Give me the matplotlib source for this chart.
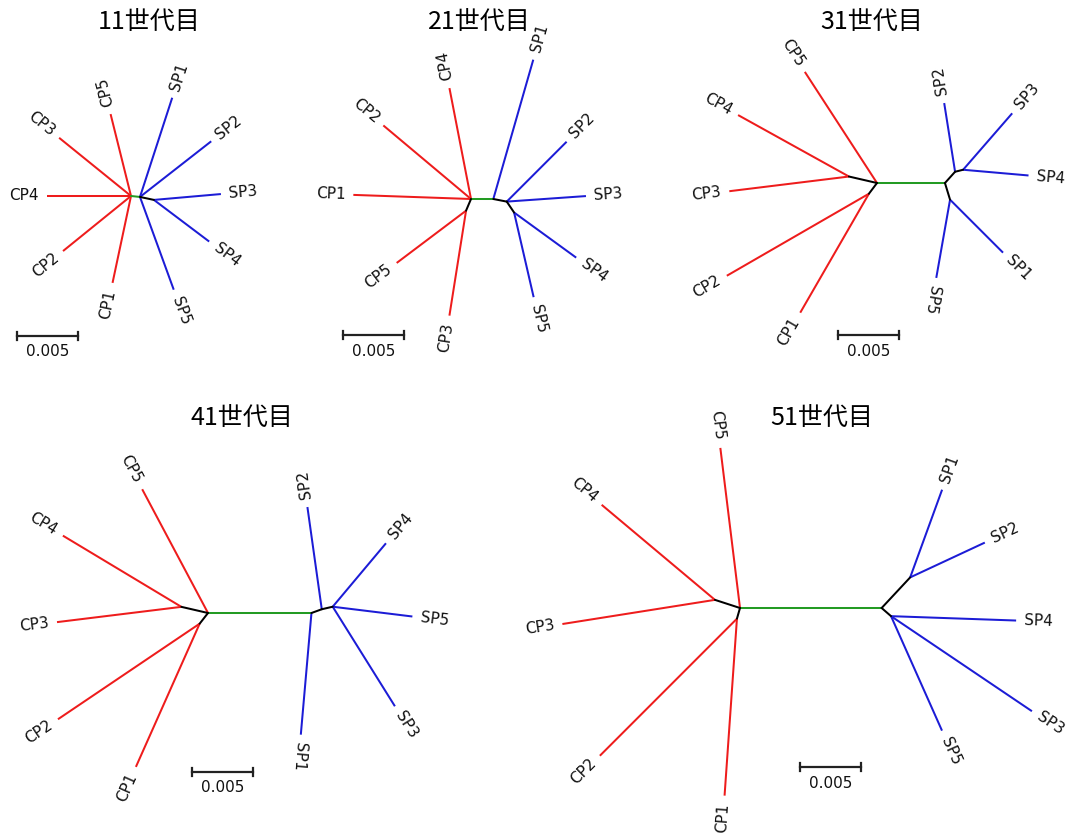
import numpy as np
import matplotlib.pyplot as plt

# unrooted NJ trees, branch length (subst./site) and drawing direction (deg)
titles = ['11世代目', '21世代目', '31世代目', '41世代目', '51世代目']

# internal branches: parent, child, length, angle  (L-R is the CP/SP split)
inner = [
    [('L', 'R', 0.00074, -6), ('R', 'R2', 0.00117, -12)],
    [('L', 'R', 0.00183, 0), ('R', 'R2', 0.00112, -11), ('R2', 'R3', 0.00108, -56), ('L', 'L2', 0.00104, -113)],
    [('L', 'R', 0.00557, 0), ('L', 'L2', 0.00236, 167), ('L', 'L3', 0.00110, -127),
     ('R', 'R2', 0.00124, 48), ('R2', 'R3', 0.00068, 14), ('R', 'R4', 0.00143, -73)],
    [('L', 'R', 0.00848, 0), ('L', 'L2', 0.00224, 167), ('L', 'L3', 0.00111, -128),
     ('R', 'R2', 0.00090, 20), ('R2', 'R3', 0.00092, 13)],
    [('L', 'R', 0.01161, 0), ('L', 'L2', 0.00216, 162), ('L', 'L3', 0.00091, -106),
     ('R', 'R2', 0.00343, 47), ('R', 'R3', 0.00102, -41)],
]

# terminal branches: name, parent, length, angle
tips = [
    [('CP5', 'L', 0.00692, 104), ('CP3', 'L', 0.00758, 141), ('CP4', 'L', 0.00689, 180),
     ('CP2', 'L', 0.00717, -141), ('CP1', 'L', 0.00728, -102), ('SP1', 'R', 0.00855, 72),
     ('SP2', 'R', 0.00741, 38), ('SP5', 'R', 0.00809, -70), ('SP3', 'R2', 0.00551, 5),
     ('SP4', 'R2', 0.00567, -37)],
    [('CP1', 'L', 0.00965, 178), ('CP2', 'L', 0.00938, 140), ('CP4', 'L', 0.00926, 101),
     ('CP5', 'L2', 0.00712, -143), ('CP3', 'L2', 0.00871, -99), ('SP1', 'R', 0.01188, 74),
     ('SP2', 'R2', 0.00694, 45), ('SP3', 'R2', 0.00651, 4), ('SP4', 'R3', 0.00629, -36),
     ('SP5', 'R3', 0.00712, -77)],
    [('CP5', 'L', 0.01086, 123), ('CP4', 'L2', 0.01039, 151), ('CP3', 'L2', 0.00988, -173),
     ('CP2', 'L3', 0.01345, -150), ('CP1', 'L3', 0.01126, -120), ('SP2', 'R2', 0.00570, 99),
     ('SP3', 'R3', 0.00613, 49), ('SP4', 'R3', 0.00538, -5), ('SP1', 'R4', 0.00614, -45),
     ('SP5', 'R4', 0.00651, -100)],
    [('CP5', 'L', 0.01149, 118), ('CP4', 'L2', 0.01133, 149), ('CP3', 'L2', 0.01027, -173),
     ('CP2', 'L3', 0.01401, -146), ('CP1', 'L3', 0.01285, -114), ('SP1', 'R', 0.01001, -95),
     ('SP2', 'R2', 0.00846, 98), ('SP3', 'R3', 0.00962, -58), ('SP4', 'R3', 0.00679, 50),
     ('SP5', 'R3', 0.00658, -7)],
    [('CP5', 'L', 0.01322, 97), ('CP4', 'L2', 0.01212, 140), ('CP3', 'L2', 0.01266, -171),
     ('CP2', 'L3', 0.01589, -135), ('CP1', 'L3', 0.01454, -94), ('SP1', 'R2', 0.00765, 70),
     ('SP2', 'R2', 0.00675, 25), ('SP4', 'R3', 0.01026, -2), ('SP3', 'R3', 0.01393, -34),
     ('SP5', 'R3', 0.01027, -66)],
]

scale_len = 0.005

# layout, in pixels of the 1067x833 picture
W, H = 1067, 833
S = scale_len / 61.0          # 0.005 drawn as 61 px
root_px = [(131, 196), (471, 199), (877, 183), (208, 613), (740, 608)]
title_px = [(149, 22), (479, 22), (872, 22), (242, 418), (822, 418)]
bar_px = [(17, 336), (343, 335), (838, 335), (192, 772), (800, 767)]

RED, BLUE, GREEN = '#ee1c1c', '#1c1cd6', '#239b23'
LW = 1.45

def px(p):
    return p[0] * S, (H - p[1]) * S

fig = plt.figure(figsize=(W / 100, H / 100), dpi=100)
ax = fig.add_axes([0, 0, 1, 1])
ax.set_xlim(0, W * S)
ax.set_ylim(0, H * S)
ax.axis('off')

for t in range(5):
    nodes = {'L': np.array(px(root_px[t]))}
    for a, b, ln, ang in inner[t]:
        d = np.array([np.cos(np.radians(ang)), np.sin(np.radians(ang))])
        nodes[b] = nodes[a] + ln * d
        col = GREEN if (a, b) == ('L', 'R') else 'black'
        ax.plot([nodes[a][0], nodes[b][0]], [nodes[a][1], nodes[b][1]],
                color=col, lw=LW, solid_capstyle='round', zorder=3)
    cx = (nodes['L'][0] + nodes['R'][0]) / 2
    for name, p, ln, ang in tips[t]:
        d = np.array([np.cos(np.radians(ang)), np.sin(np.radians(ang))])
        end = nodes[p] + ln * d
        col = RED if name.startswith('CP') else BLUE
        ax.plot([nodes[p][0], end[0]], [nodes[p][1], end[1]], color=col, lw=LW,
                solid_capstyle='butt', zorder=2)
        lab = end + 8 * S * d
        # left-hand labels are turned to read towards the tip, except near-vertical up ones
        if end[0] < cx and not (99 <= ang <= 110):
            rot, ha = ang + 180, 'right'
        else:
            rot, ha = ang, 'left'
        rot = (rot + 180) % 360 - 180
        ax.text(lab[0], lab[1], name, rotation=rot, rotation_mode='anchor',
                ha=ha, va='center', fontsize=11, color='#111111', family='DejaVu Sans')
    # scale bar
    bx, by = px(bar_px[t])
    ax.plot([bx, bx + scale_len], [by, by], color='#222222', lw=1.6)
    for xx in (bx, bx + scale_len):
        ax.plot([xx, xx], [by - 4 * S, by + 4 * S], color='#222222', lw=1.6)
    ax.text(bx + scale_len / 2, by - 16 * S, '0.005', ha='center', va='center',
            fontsize=11, color='#111111', family='DejaVu Sans')
    tx, ty = px(title_px[t])
    ax.text(tx, ty, titles[t], ha='center', va='center', fontsize=18,
            family=['Noto Sans CJK JP', 'DejaVu Sans'])

fig.savefig('out.png', dpi=100)
